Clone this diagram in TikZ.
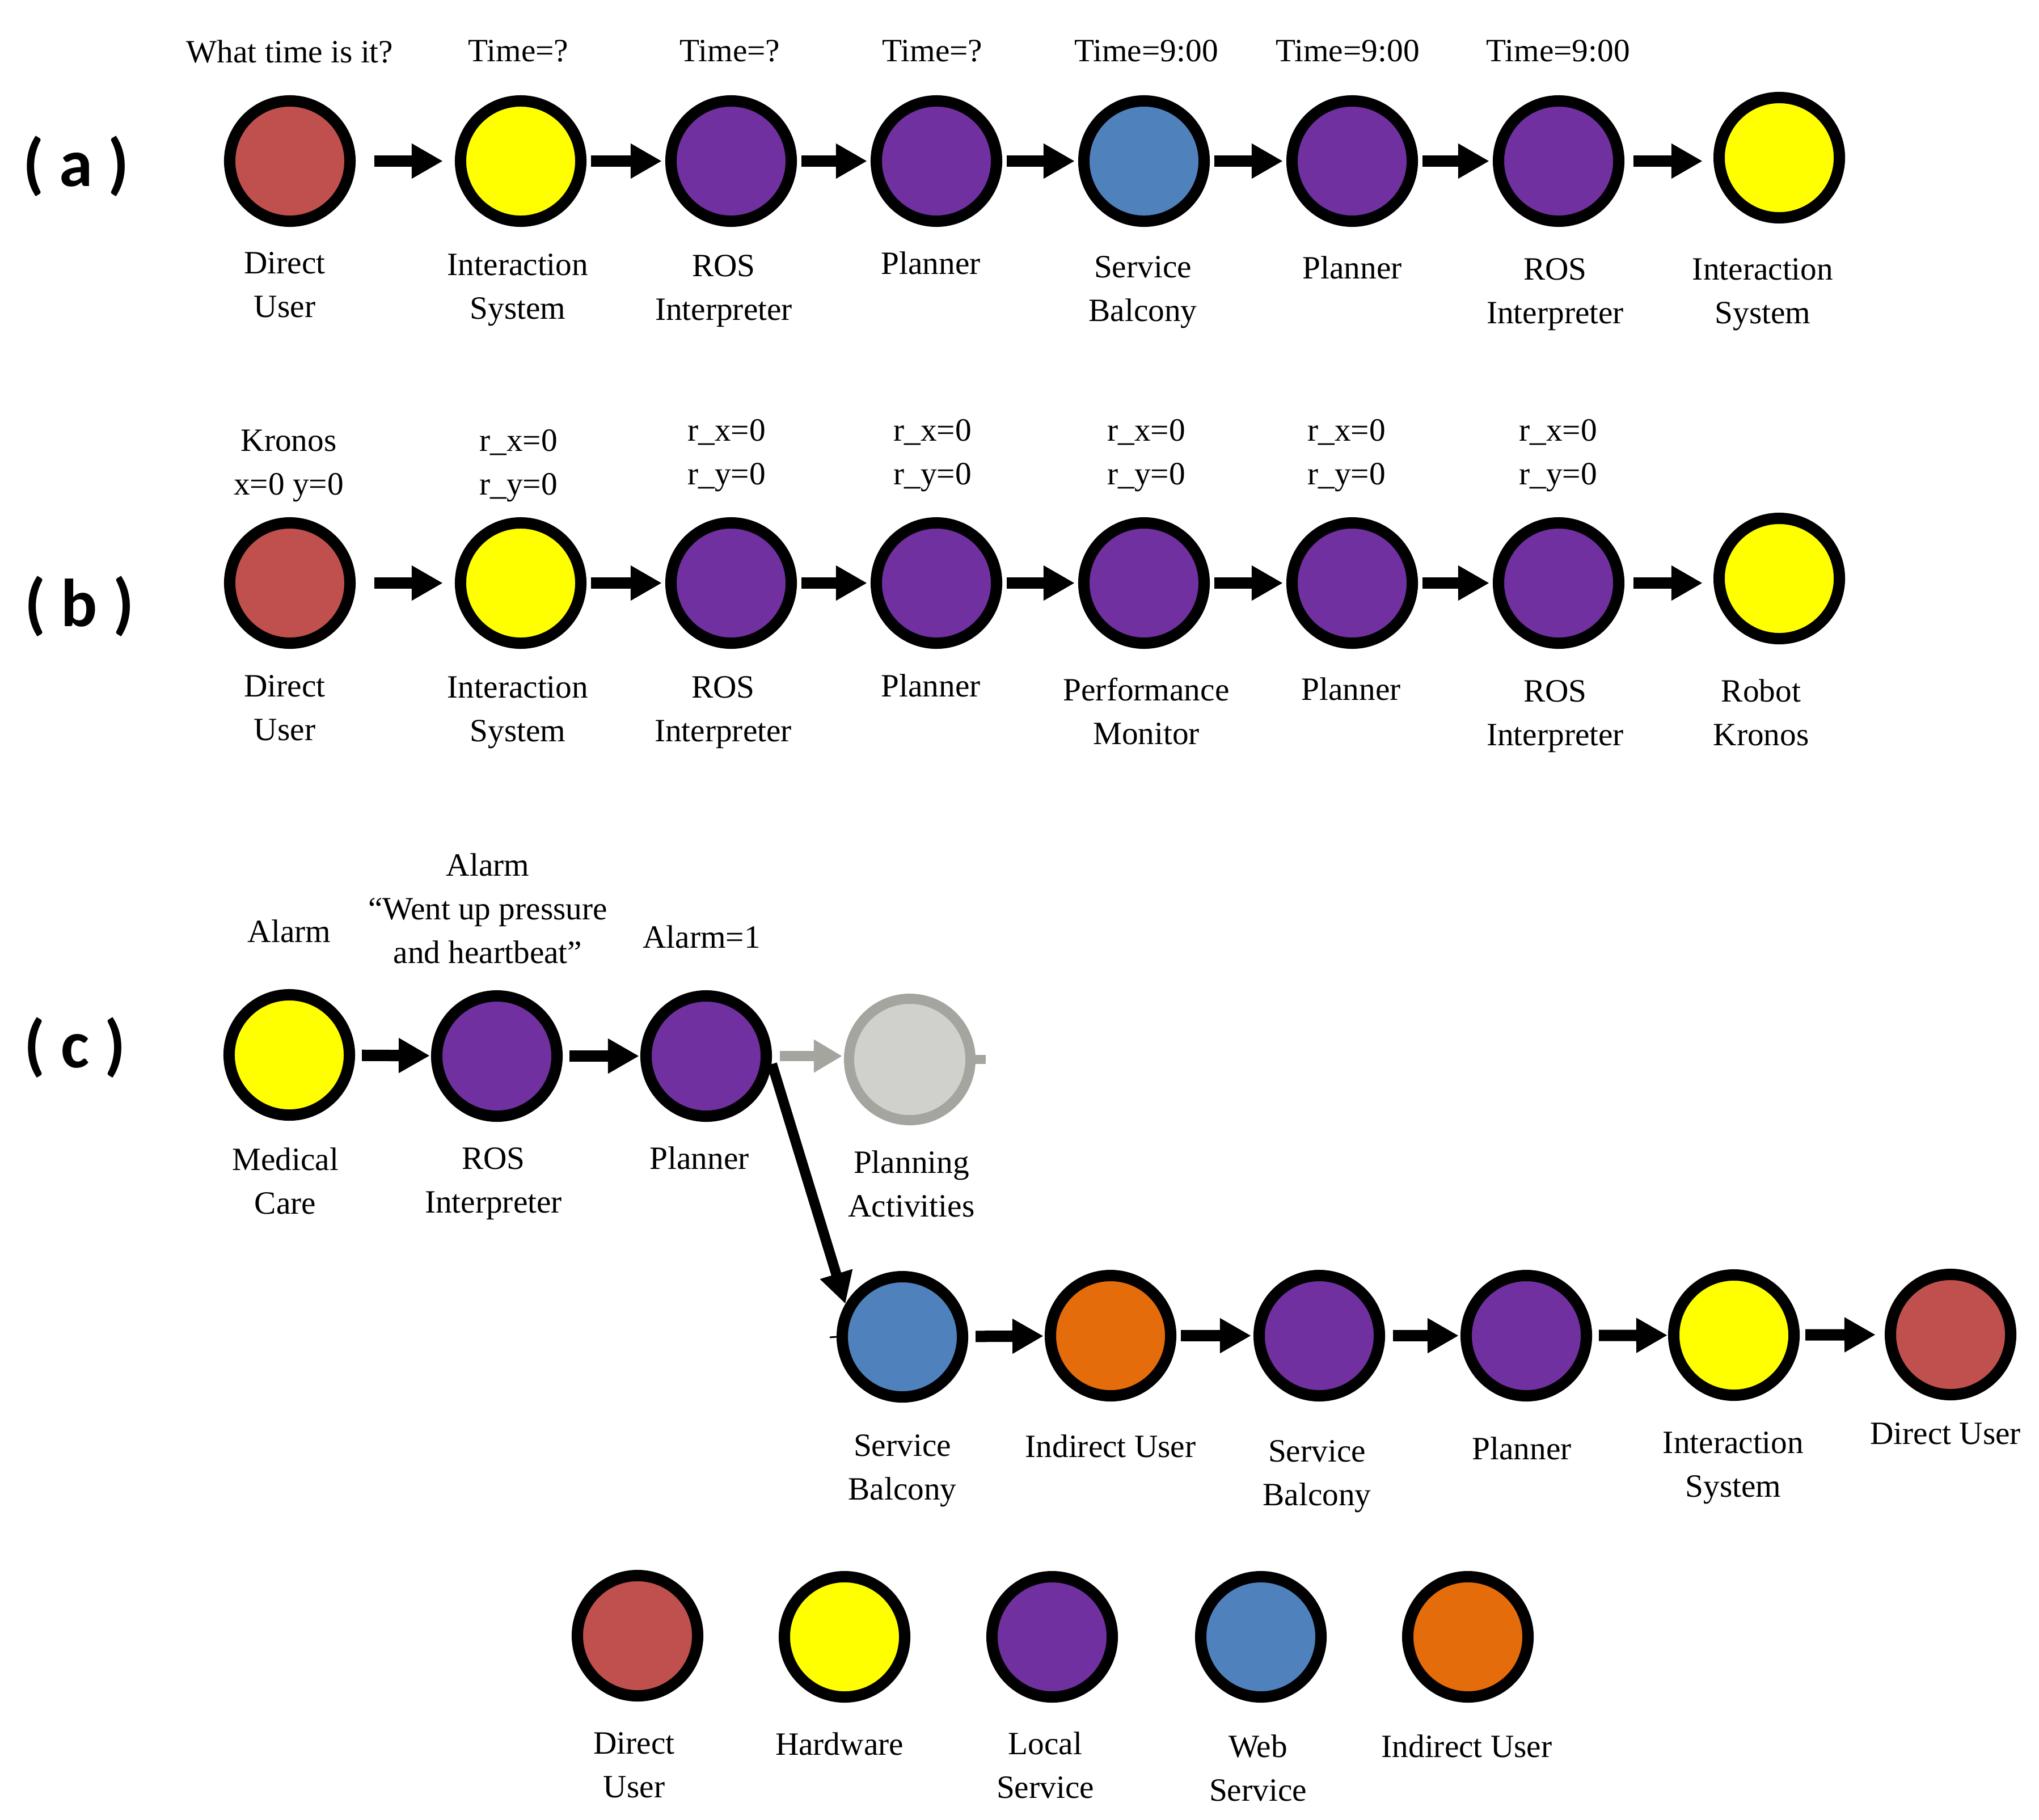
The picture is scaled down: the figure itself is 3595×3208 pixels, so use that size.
\documentclass[tikz,border=0pt]{standalone}
\usepackage{fontspec}
\setmainfont{Liberation Serif}
\newfontfamily\panelfont{Carlito}
\usetikzlibrary{arrows.meta}
\definecolor{cRed}{HTML}{C0504D}
\definecolor{cYel}{HTML}{FFFF00}
\definecolor{cPur}{HTML}{7030A0}
\definecolor{cBlu}{HTML}{4F81BD}
\definecolor{cOra}{HTML}{E46C0A}
\definecolor{cGrayL}{HTML}{D0D0CC}
\definecolor{cGrayD}{HTML}{A5A5A0}
\newcommand{\lblfont}{\fontsize{16.3pt}{21.9pt}\selectfont}
\tikzset{
  nd/.style={circle, draw=black, line width=0.2cm, minimum size=2.12cm, inner sep=0pt, outer sep=0.1cm},
  du/.style={nd, fill=cRed},
  hw/.style={nd, fill=cYel},
  ls/.style={nd, fill=cPur},
  ws/.style={nd, fill=cBlu},
  iu/.style={nd, fill=cOra},
  pa/.style={circle, draw=cGrayD, fill=cGrayL, line width=0.18cm, minimum size=2.14cm, inner sep=0pt, outer sep=0.09cm},
  lbl/.style={anchor=north, align=center, inner sep=0pt, font=\lblfont},
  panel/.style={anchor=base, inner sep=0pt, font=\panelfont\bfseries\fontsize{34pt}{40pt}\selectfont},
  arr/.style={line width=0.2cm, -{Triangle[length=0.55cm,width=0.58cm]}, shorten <=0.08cm, shorten >=0.06cm},
  garr/.style={draw=cGrayD, line width=0.18cm, -{Triangle[length=0.5cm,width=0.55cm]}, shorten <=0.14cm, shorten >=0.03cm},
}
\begin{document}
\begin{tikzpicture}[x=0.01cm,y=-0.01cm]
\useasboundingbox[fill=white] (0,0) rectangle (3595,3208);

% panel labels
\node[panel] (pla) at (134,328) {( a )};
\node[panel] (plb) at (140,1104) {( b )};
\node[panel] (plc) at (132,1882) {( c )};

% ---------------- row (a)
\node[du] (a1) at (511,284) {};
\node[hw] (a2) at (918,284) {};
\node[ls] (a3) at (1289,284) {};
\node[ls] (a4) at (1651,284) {};
\node[ws] (a5) at (2017,284) {};
\node[ls] (a6) at (2384,284) {};
\node[ls] (a7) at (2748,284) {};
\node[hw] (a8) at (3137,278) {};

\draw[arr, shorten <=0.33cm, shorten >=0.21cm] (a1) -- (a2);
\draw[arr] (a2) -- (a3);
\draw[arr] (a3) -- (a4);
\draw[arr] (a4) -- (a5);
\draw[arr] (a5) -- (a6);
\draw[arr] (a6) -- (a7);
\draw[arr, shorten <=0.16cm, shorten >=0.19cm] (a7.east) -- (a7.east -| a8.west);

\node[lbl] (ta1) at (511,70) {What time is it?};
\node[lbl] (ta2) at (914,70) {Time=?};
\node[lbl] (ta3) at (1287,70) {Time=?};
\node[lbl] (ta4) at (1644,70) {Time=?};
\node[lbl] (ta5) at (2021,70) {Time=9:00};
\node[lbl] (ta6) at (2376,70) {Time=9:00};
\node[lbl] (ta7) at (2747,70) {Time=9:00};

\node[lbl] (la1) at (502,444) {Direct\\User};
\node[lbl] (la2) at (913,447) {Interaction\\System};
\node[lbl] (la3) at (1276,449) {ROS\\Interpreter};
\node[lbl] (la4) at (1641,443) {Planner};
\node[lbl] (la5) at (2015,451) {Service\\Balcony};
\node[lbl] (la6) at (2384,451) {Planner};
\node[lbl] (la7) at (2742,455) {ROS\\Interpreter};
\node[lbl] (la8) at (3108,455) {Interaction\\System};

% ---------------- row (b)
\node[du] (b1) at (511,1028) {};
\node[hw] (b2) at (918,1028) {};
\node[ls] (b3) at (1289,1028) {};
\node[ls] (b4) at (1651,1028) {};
\node[ls] (b5) at (2017,1028) {};
\node[ls] (b6) at (2384,1028) {};
\node[ls] (b7) at (2748,1028) {};
\node[hw] (b8) at (3137,1020) {};

\draw[arr, shorten <=0.33cm, shorten >=0.21cm] (b1) -- (b2);
\draw[arr] (b2) -- (b3);
\draw[arr] (b3) -- (b4);
\draw[arr] (b4) -- (b5);
\draw[arr] (b5) -- (b6);
\draw[arr] (b6) -- (b7);
\draw[arr, shorten <=0.16cm, shorten >=0.19cm] (b7.east) -- (b7.east -| b8.west);

\node[lbl] (tb1) at (509,757) {Kronos\\x=0 y=0};
\node[lbl] (tb2) at (914,757) {r\_x=0\\r\_y=0};
\node[lbl] (tb3) at (1281,739) {r\_x=0\\r\_y=0};
\node[lbl] (tb4) at (1644,739) {r\_x=0\\r\_y=0};
\node[lbl] (tb5) at (2021,739) {r\_x=0\\r\_y=0};
\node[lbl] (tb6) at (2374,739) {r\_x=0\\r\_y=0};
\node[lbl] (tb7) at (2747,739) {r\_x=0\\r\_y=0};

\node[lbl] (lb1) at (502,1190) {Direct\\User};
\node[lbl] (lb2) at (913,1192) {Interaction\\System};
\node[lbl] (lb3) at (1275,1192) {ROS\\Interpreter};
\node[lbl] (lb4) at (1641,1188) {Planner};
\node[lbl] (lb5) at (2021,1194) {Performance\\Monitor};
\node[lbl] (lb6) at (2382,1194) {Planner};
\node[lbl] (lb7) at (2742,1199) {ROS\\Interpreter};
\node[lbl] (lb8) at (3105,1197) {Robot\\Kronos};

% ---------------- row (c), upper part
\node[hw] (c1) at (510,1860) {};
\node[ls] (c2) at (876,1862) {};
\node[ls] (c3) at (1245,1862) {};
\node[pa] (cpa) at (1604,1868) {};
\coordinate (pastub) at (1738,1868);
\draw[cGrayD, line width=0.16cm] (cpa.east) -- (pastub);

\draw[arr, shorten <=0.12cm, shorten >=0.02cm] (c1) -- (c2);
\draw[arr, shorten <=0.12cm, shorten >=0.02cm] (c2) -- (c3);
\draw[garr] (c3.east) -- (c3.east -| cpa.west);

\node[lbl] (tc1) at (510,1621) {Alarm};
\node[lbl] (tc2) at (860,1504) {Alarm\\“Went up pressure\\and heartbeat”};
\node[lbl] (tc3) at (1237,1631) {Alarm=1};

\node[lbl] (lc1) at (503,2023) {Medical\\Care};
\node[lbl] (lc2) at (870,2023) {ROS\\Interpreter};
\node[lbl] (lc3) at (1233,2021) {Planner};
\node[lbl] (lcpa) at (1607,2028) {Planning\\Activities};

% ---------------- row (c), lower part
\node[ws] (d1) at (1591,2357) {};
\node[iu] (d2) at (1958,2355) {};
\node[ls] (d3) at (2326,2355) {};
\node[ls] (d4) at (2691,2355) {};
\node[hw] (d5) at (3057,2354) {};
\node[du] (d6) at (3439,2353) {};
\coordinate (sbstub) at (1463,2358);
\draw[line width=0.03cm] (d1.west) -- (sbstub);

\draw[line width=0.18cm, -{Triangle[length=0.55cm,width=0.56cm]}, shorten <=0.02cm] (c3.-6) -- (d1.150);

\draw[arr, shorten <=0.13cm, shorten >=0.02cm] (d1) -- (d2);
\draw[arr, shorten <=0.08cm, shorten >=0.04cm] (d2) -- (d3);
\draw[arr, shorten <=0.14cm, shorten >=0.03cm] (d3) -- (d4);
\draw[arr, shorten <=0.12cm, shorten >=0.01cm] (d4) -- (d5);
\draw[arr, shorten <=0.1cm, shorten >=0.16cm] (d5) -- (d6);

\node[lbl] (ld1) at (1591,2529) {Service\\Balcony};
\node[lbl] (ld2) at (1958,2529) {Indirect User};
\node[lbl] (ld3) at (2322,2539) {Service\\Balcony};
\node[lbl] (ld4) at (2683,2533) {Planner};
\node[lbl] (ld5) at (3056,2524) {Interaction\\System};
\node[lbl] (ld6) at (3430,2508) {Direct User};

% ---------------- legend
\node[du] (l1) at (1124,2884) {};
\node[hw] (l2) at (1489,2886) {};
\node[ls] (l3) at (1855,2886) {};
\node[ws] (l4) at (2223,2886) {};
\node[iu] (l5) at (2588,2886) {};

\node[lbl] (ll1) at (1118,3054) {Direct\\User};
\node[lbl] (ll2) at (1480,3054) {Hardware};
\node[lbl] (ll3) at (1843,3053) {Local\\Service};
\node[lbl] (ll4) at (2218,3058) {Web\\Service};
\node[lbl] (ll5) at (2586,3058) {Indirect User};
\end{tikzpicture}
\end{document}
